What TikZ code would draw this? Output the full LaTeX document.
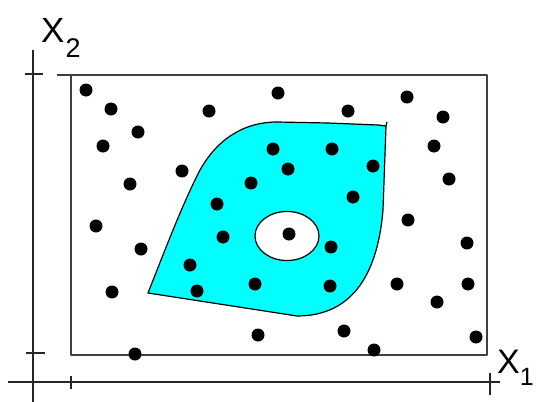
\documentclass[tikz,border=0pt]{standalone}
\usepackage{fontspec}
\setmainfont{Liberation Sans}
\usetikzlibrary{arrows.meta}
\definecolor{aqua}{RGB}{0,255,255}

\begin{document}
\begin{tikzpicture}[x=1pt, y=-1pt, line join=round]

    % page frame (pixel grid, y runs downwards)
    \useasboundingbox (0,0) rectangle (536,402);

    % parameters: the outer rectangle
    \def\L{71}
    \def\T{75}
    \def\R{487}
    \def\B{355}

    % axes
    \draw[line width=1.3pt, black!85] (33,50) -- (33,402);
    \draw[line width=1.3pt, black!85] (8,382) -- (500,382);

    % axis ticks
    \draw[line width=1.3pt, black!85] (25,74) -- (43,74);
    \draw[line width=1.3pt, black!85] (26,353) -- (45,353);
    \draw[line width=1.3pt, black!85] (71,376) -- (71,389);
    \draw[line width=1.3pt, black!85] (490,373) -- (490,395);

    % outer rectangle
    \draw[line width=1.6pt, black!75] (\L,\T) rectangle (\R,\B);
    \draw[line width=1.6pt, black!75] (57,\T) -- (\L,\T);

    % cyan region
    \filldraw[fill=aqua, draw=black, line width=1.2pt]
        (148,293) .. controls (165,250) and (182,205) .. (200,170)
        .. controls (218,138) and (245,122) .. (277,122)
        -- (328,123) -- (378,125) -- (386,126) -- (387,122) -- (386,126)
        -- (383,210) .. controls (378,270) and (355,316) .. (297,316)
        -- cycle;

    % hole
    \filldraw[fill=white, draw=black, line width=1.2pt]
        (287,236) ellipse [x radius=32pt, y radius=24.5pt];

    % sample points
    \foreach \px/\py in {86/90, 111/109, 138/132, 103/146, 209/111, 278/93,
        348/111, 407/97, 443/117, 434/146, 449/179, 130/184, 182/171,
        273/149, 332/149, 288/169, 373/166, 251/183, 217/204, 353/197,
        96/226, 141/249, 223/237, 289/234, 408/220, 467/243, 190/265,
        112/292, 197/291, 255/284, 331/247, 330/286, 397/284, 437/302,
        468/284, 258/335, 344/331, 374/350, 135/354, 476/337}
        \fill (\px,\py) circle[radius=6.5pt];

    % axis labels
    \node[anchor=base west, inner sep=0, font=\fontsize{34}{34}\selectfont]
        (xlab) at (497,373) {X\raisebox{-12pt}{\fontsize{25}{25}\selectfont 1}};
    \node[anchor=base west, inner sep=0, font=\fontsize{35}{35}\selectfont]
        (ylab) at (41,42) {X\hspace{1pt}\raisebox{-15pt}{\fontsize{27}{27}\selectfont 2}};

\end{tikzpicture}
\end{document}
